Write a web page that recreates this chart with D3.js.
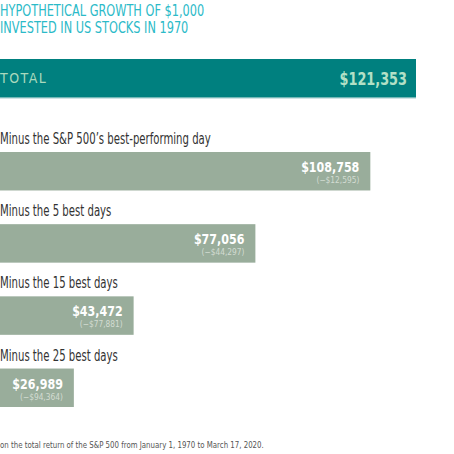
<!DOCTYPE html>
<html lang="en">
<head>
    <meta charset="UTF-8">
    <title>Hypothetical growth of $1,000</title>
    <script src="https://d3js.org/d3.v7.min.js"></script>
    <style>
        body { margin: 0; background: #fff; }
        svg { display: block; }
        text { font-family: "DejaVu Sans Condensed", "DejaVu Sans", sans-serif; }
    </style>
</head>
<body>
    <div id="chart"></div>
    <script>
        // data
        const titleLines = ["HYPOTHETICAL GROWTH OF $1,000", "INVESTED IN US STOCKS IN 1970"];
        const totalLabel = "TOTAL";
        const totalValue = 121353;
        const categories = [
            "Minus the S&P 500\u2019s best-performing day",
            "Minus the 5 best days",
            "Minus the 15 best days",
            "Minus the 25 best days"
        ];
        const values = [108758, 77056, 43472, 26989];
        const footnote = "on the total return of the S&P 500 from January 1, 1970 to March 17, 2020.";

        const width = 454, height = 454;
        const fmt = d3.format("$,");

        const svg = d3.select("#chart").append("svg")
            .attr("width", width)
            .attr("height", height);

        // narrow the glyphs a bit, the original uses a condensed face
        function squeeze(sel, k) {
            sel.each(function () {
                const w = this.getComputedTextLength();
                d3.select(this)
                    .attr("textLength", w * k)
                    .attr("lengthAdjust", "spacingAndGlyphs");
            });
        }

        // scales (chart is cropped on the left, zero sits off-canvas)
        const x = d3.scaleLinear().domain([0, totalValue]).range([-24, 416]);
        const y = d3.scaleBand().domain(categories).range([152, 407]).paddingInner(0.467);

        // title
        svg.append("g").selectAll("text")
            .data(titleLines)
            .enter().append("text")
            .attr("x", 0)
            .attr("y", (d, i) => 16 + i * 17)
            .attr("font-size", 15)
            .attr("fill", "#2bbac8")
            .text(d => d)
            .call(squeeze, 0.84);

        // total bar
        const totalTop = 59, totalH = 38.5;
        svg.append("rect")
            .attr("x", x(0))
            .attr("y", totalTop + totalH)
            .attr("width", x(totalValue) - x(0))
            .attr("height", 1.5)
            .attr("fill", "#cfe4e4");
        svg.append("rect")
            .attr("x", x(0))
            .attr("y", totalTop)
            .attr("width", x(totalValue) - x(0))
            .attr("height", totalH)
            .attr("fill", "#00807f");
        svg.append("text")
            .attr("x", 0)
            .attr("y", totalTop + 24)
            .attr("font-size", 14)
            .attr("letter-spacing", 1.5)
            .attr("fill", "#a9d9bd")
            .text(totalLabel);
        svg.append("text")
            .attr("x", x(totalValue) - 9)
            .attr("y", totalTop + 26)
            .attr("text-anchor", "end")
            .attr("font-size", 17)
            .attr("font-weight", "bold")
            .attr("fill", "#b3e0c6")
            .text(fmt(totalValue))
            .call(squeeze, 0.84);

        // minus bars
        const rows = svg.append("g").selectAll("g")
            .data(values)
            .enter().append("g");

        rows.append("text")
            .attr("x", 0)
            .attr("y", (d, i) => y(categories[i]) - 8)
            .attr("font-size", 15)
            .attr("fill", "#333")
            .text((d, i) => categories[i])
            .call(squeeze, 0.75);

        rows.append("rect")
            .attr("x", x(0))
            .attr("y", (d, i) => y(categories[i]))
            .attr("width", d => x(d) - x(0))
            .attr("height", y.bandwidth())
            .attr("fill", "#99ad9b");

        rows.append("text")
            .attr("x", d => x(d) - 11)
            .attr("y", (d, i) => y(categories[i]) + 20)
            .attr("text-anchor", "end")
            .attr("font-size", 14)
            .attr("font-weight", "bold")
            .attr("fill", "#fff")
            .text(d => fmt(d))
            .call(squeeze, 0.88);

        rows.append("text")
            .attr("x", d => x(d) - 11)
            .attr("y", (d, i) => y(categories[i]) + 31)
            .attr("text-anchor", "end")
            .attr("font-size", 9)
            .attr("fill", "#d3dcd2")
            .text(d => "(\u2212" + fmt(totalValue - d) + ")")
            .call(squeeze, 0.92);

        // footnote
        svg.append("text")
            .attr("x", 0)
            .attr("y", 448)
            .attr("font-size", 9.5)
            .attr("fill", "#555")
            .text(footnote)
            .call(squeeze, 0.82);
    </script>
</body>
</html>
